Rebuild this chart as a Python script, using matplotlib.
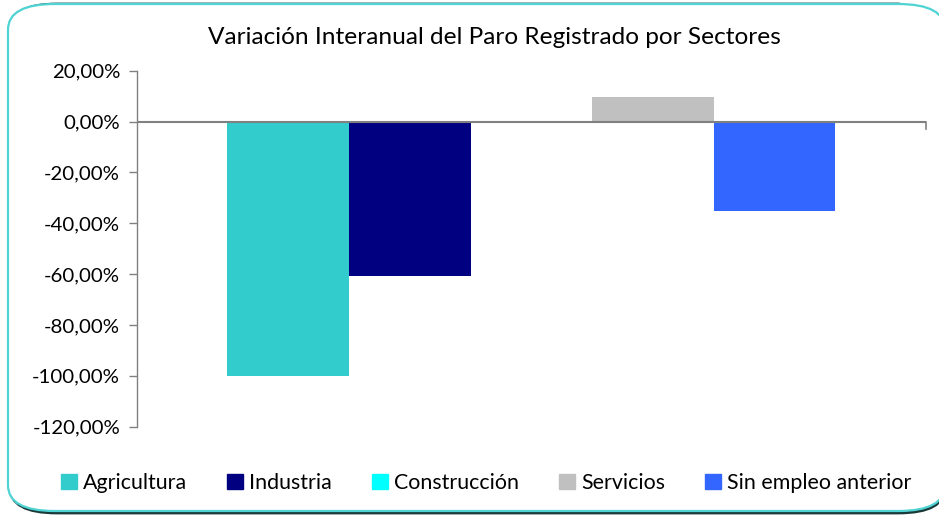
import matplotlib
matplotlib.use("Agg")
import matplotlib.pyplot as plt
from matplotlib.patches import FancyBboxPatch
from matplotlib.ticker import FuncFormatter

categories = ["Agricultura", "Industria", "Construcción", "Servicios", "Sin empleo anterior"]
values = [-100.0, -60.6, 0.0, 9.8, -35.0]
colors = ["#33CCCC", "#000080", "#00FFFF", "#C0C0C0", "#3366FF"]
yticks = [20, 0, -20, -40, -60, -80, -100, -120]
title = "Variación Interanual del Paro Registrado por Sectores"

plt.rcParams['font.family'] = ['Lato', 'DejaVu Sans']

W, H = 939, 515
fig = plt.figure(figsize=(W / 100, H / 100), dpi=100)

# frame with shadow
shadow = FancyBboxPatch((10 / W, 2 / H), (945 - 10) / W, (511 - 2) / H,
                        boxstyle="round,pad=0,rounding_size=0.05",
                        transform=fig.transFigure, facecolor="none",
                        edgecolor="#1a3a3a", linewidth=2.0, zorder=0)
frame = FancyBboxPatch((8 / W, 4 / H), (945 - 8) / W, (511 - 4) / H,
                       boxstyle="round,pad=0,rounding_size=0.05",
                       transform=fig.transFigure, facecolor="white",
                       edgecolor="#4FD3D3", linewidth=1.6, zorder=1)
fig.patches.extend([shadow, frame])

left, right, top, bottom = 136.7, 926.0, 70.7, 426.7
ax = fig.add_axes([left / W, 1 - bottom / H, (right - left) / W, (bottom - top) / H])
ax.set_zorder(2)
ax.patch.set_alpha(0)

n = len(values)
w = 121.6 / (right - left)
xs = [(i - (n - 1) / 2) * w for i in range(n)]
bars = ax.bar(xs, values, width=w, color=colors, zorder=2)

ax.set_xlim(-0.5, 0.5)
ax.set_ylim(-120, 20)
ax.set_yticks(yticks)
ax.yaxis.set_major_formatter(FuncFormatter(lambda v, p: f"{v:.2f}%".replace(".", ",")))
ax.tick_params(axis='y', direction='out', length=6, width=1, color="#808080",
               labelsize=14.7, pad=6, labelcolor="black")
ax.set_xticks([])
for s in ["top", "right", "bottom"]:
    ax.spines[s].set_visible(False)
ax.spines["left"].set_color("#808080")
ax.spines["left"].set_linewidth(1)
ax.axhline(0, color="#808080", linewidth=1.5, zorder=3)
# category boundary tick on zero line
ax.plot([0.5, 0.5], [0, -7 * 140 / (bottom - top)], color="#808080", lw=1.2, clip_on=False, zorder=3)

fig.text(494 / W, 1 - 38 / H, title, ha="center", va="center", fontsize=17.6)

handles = [plt.Rectangle((0, 0), 1, 1, color=c) for c in colors]
leg = fig.legend(handles, categories, loc="center", bbox_to_anchor=(486 / W, 1 - 483 / H),
                 ncol=5, frameon=False, fontsize=15.4, handlelength=0.75, handleheight=0.75,
                 handletextpad=0.3, columnspacing=1.85)

fig.savefig("out.png", dpi=100)
